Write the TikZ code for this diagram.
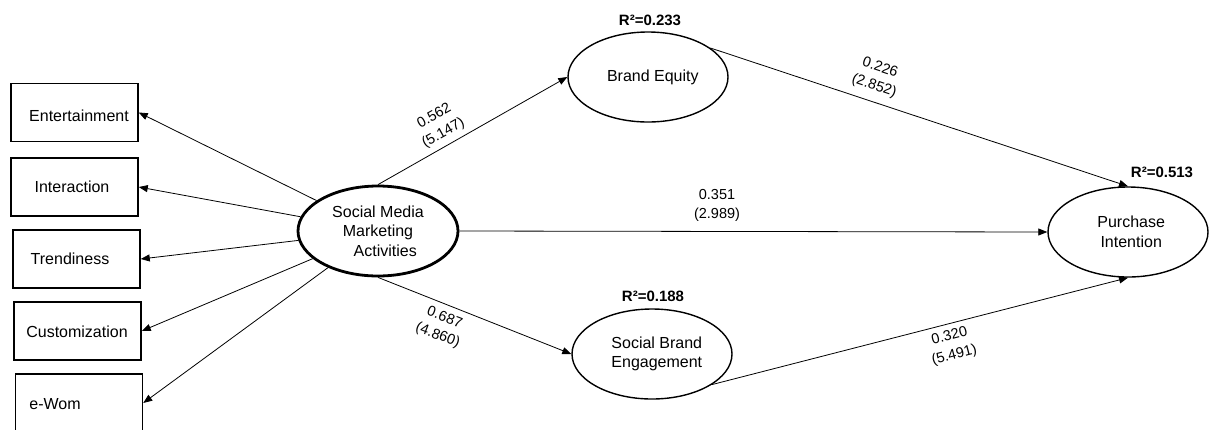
\documentclass[tikz,border=0pt]{standalone}
\usepackage{fontspec}
\setmainfont{Liberation Sans}
\usetikzlibrary{shapes.geometric,arrows.meta}
\tikzset{
  boxnode/.style={draw, line width=1.5pt, minimum width=127pt, minimum height=58pt, inner sep=0pt},
  boxtext/.style={font=\fontsize{16}{19}\selectfont, inner sep=0pt},
  latent/.style={draw, ellipse, line width=1.4pt, minimum width=160pt, minimum height=90pt, inner sep=0pt, align=center, font=\fontsize{16}{19.5}\selectfont},
  conn/.style={line width=0.8pt, -{Triangle[length=9pt,width=7pt]}},
  coef/.style={font=\fontsize{14.5}{19}\selectfont, align=center, inner sep=0pt},
  rsq/.style={font=\bfseries\fontsize{15}{18}\selectfont, inner sep=0pt}
}
\begin{document}
\begin{tikzpicture}[x=1pt,y=-1pt]
\useasboundingbox (0,0) rectangle (1209,429);
\clip (0,0) rectangle (1209,429);
% indicator boxes
\node[boxnode] (ent) at (74.5,112.5) {};
\node[boxnode] (int) at (74.5,187) {};
\node[boxnode] (tre) at (76.5,259) {};
\node[boxnode] (cus) at (77.5,331) {};
\node[boxnode] (ewo) at (79,403) {};
\node[boxtext] (entT) at (79,116) {Entertainment};
\node[boxtext] (intT) at (72,187) {Interaction};
\node[boxtext] (treT) at (70,259) {Trendiness};
\node[boxtext] (cusT) at (77,332) {Customization};
\node[boxtext] (ewoT) at (55,404) {e-Wom};
% latent variables
\node[latent, line width=2.8pt] (smma) at (378,231) {Social Media\\Marketing\\\hspace*{0.9em}Activities};
\node[latent] (be) at (648,77) {\hspace*{0.6em}Brand Equity};
\node[latent] (sbe) at (652,354) {\hspace*{0.6em}Social Brand\\\hspace*{0.6em}Engagement};
\node[latent] (pi) at (1128,232) {\hspace*{0.4em}Purchase\\\hspace*{0.4em}Intention};
% R squared
\node[rsq] (r2be) at (650,20) {R²=0.233};
\node[rsq] (r2sbe) at (653,296) {R²=0.188};
\node[rsq] (r2pi) at (1162,172) {R²=0.513};
% loadings
\draw[conn] (smma) -- (ent.east);
\draw[conn] (smma) -- (int.east);
\draw[conn] (smma) -- (tre.east);
\draw[conn] (smma) -- (cus.east);
\draw[conn] (smma) -- (ewo.east);
% structural paths
\draw[conn] (smma.north) -- (be.west);
\draw[conn] (be.25) -- (pi.north);
\draw[conn] (smma.east) -- (pi.west);
\draw[conn] (smma.south) -- (sbe.west);
\draw[conn] (sbe.-27) -- (pi.south);
% coefficients
\node[coef, rotate=29] (c1) at (439,125) {0.562\\(5.147)};
\node[coef, rotate=-18.5] (c2) at (877,77) {0.226\\(2.852)};
\node[coef] (c3) at (717,205) {0.351\\(2.989)};
\node[coef, rotate=-21] (c4) at (441,327) {0.687\\(4.860)};
\node[coef, rotate=14.6] (c5) at (952,346) {0.320\\(5.491)};
\end{tikzpicture}
\end{document}
